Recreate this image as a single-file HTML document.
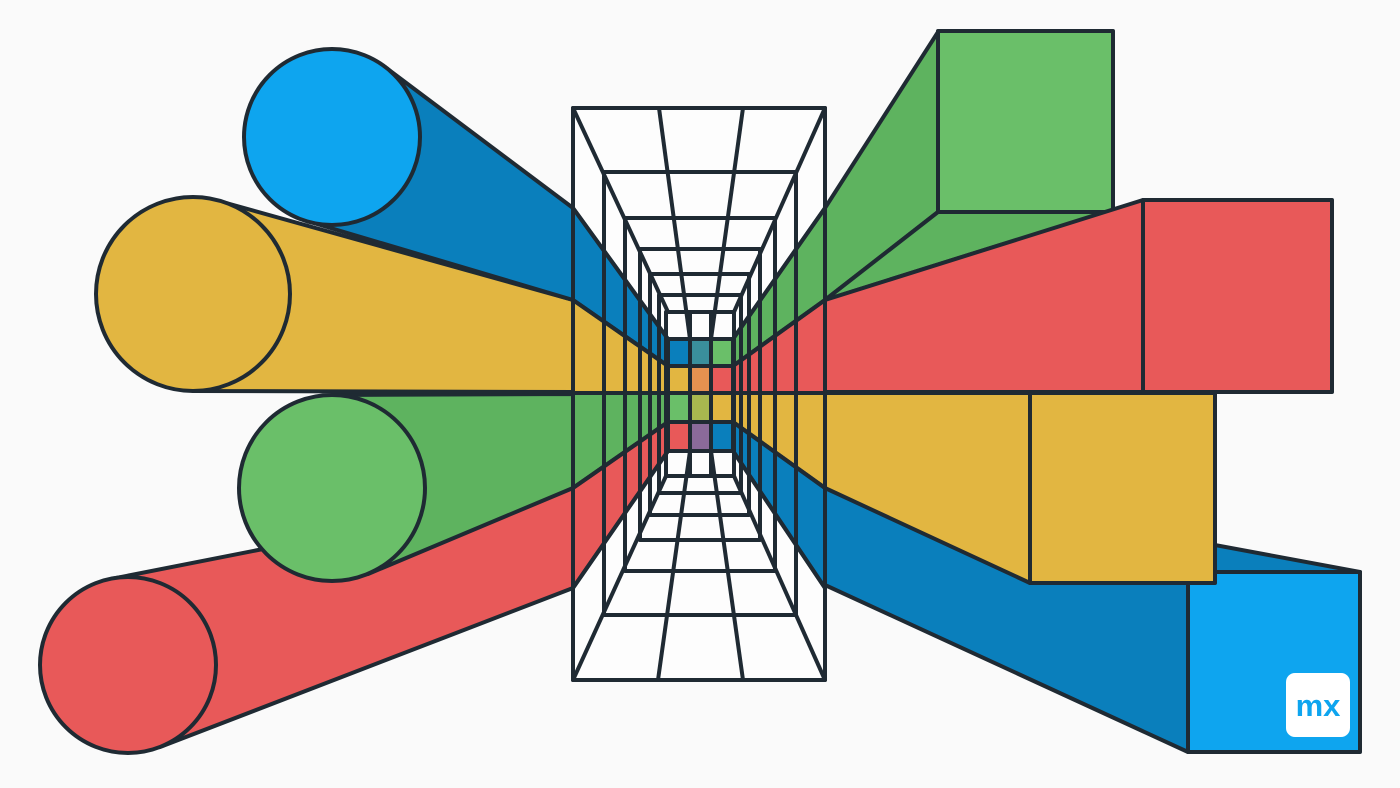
<!DOCTYPE html>
<html><head><meta charset="utf-8"><style>
html,body{margin:0;padding:0;background:#fafafa;}
svg{display:block;}
</style></head><body>
<svg width="1400" height="788" viewBox="0 0 1400 788">
<rect width="1400" height="788" fill="#fafafa"/>
<g stroke="#1f2a33" stroke-width="4" stroke-linejoin="round">
<!-- left cylinders -->
<g>
<polygon points="128,665 111,579 573,488 573,588 160,747" fill="#e85959"/>
<circle cx="128" cy="665" r="88" fill="#e85959"/>
</g>
<g>
<polygon points="332,488 332,395 573,394 573,488 368,574" fill="#5eb35f"/>
<circle cx="332" cy="488" r="93" fill="#6abf69"/>
</g>
<g>
<polygon points="193,294 219,201 573,300 573,392 193,391" fill="#e2b641"/>
<circle cx="193" cy="294" r="97" fill="#e2b641"/>
</g>
<g>
<polygon points="332,137 385,67 573,208 573,300 307,221" fill="#0a7fbc"/>
<circle cx="332" cy="137" r="88" fill="#0ea5ef"/>
</g>
<!-- right boxes -->
<g>
<polygon points="825,488 1000,505 1360,572 1188,572" fill="#0a7fbc"/>
<polygon points="825,488 1188,572 1188,752 825,585" fill="#0a7fbc"/>
<rect x="1188" y="572" width="172" height="180" fill="#0ea5ef"/>
</g>
<g>
<polygon points="825,393 1030,393 1030,583 825,488" fill="#e2b641"/>
<rect x="1030" y="393" width="185" height="190" fill="#e2b641"/>
</g>
<g>
<polygon points="825,208 938,32 938,212 825,300" fill="#5eb35f"/>
<polygon points="825,300 938,212 1113,212 1000,245" fill="#5eb35f"/>
<rect x="938" y="31" width="175" height="181" fill="#6abf69"/>
</g>
<g>
<polygon points="825,300 1143,200 1143,392 825,392" fill="#e85959"/>
<rect x="1143" y="200" width="189" height="192" fill="#e85959"/>
</g>
<!-- tunnel -->
<g>
<rect x="573" y="108" width="252" height="572" fill="#fdfdfd"/>
<polygon points="573,208 668,339 668,366 573,300" fill="#0a7fbc"/>
<polygon points="573,300 668,366 668,393 573,393" fill="#e2b641"/>
<polygon points="573,393 668,393 668,422 573,488" fill="#5eb35f"/>
<polygon points="573,488 668,422 668,451 573,588" fill="#e85959"/>
<polygon points="825,208 733,339 733,366 825,300" fill="#5eb35f"/>
<polygon points="825,300 733,366 733,393 825,393" fill="#e85959"/>
<polygon points="825,393 733,393 733,422 825,488" fill="#e2b641"/>
<polygon points="825,488 733,422 733,451 825,588" fill="#0a7fbc"/>
<g stroke="none">
<rect x="668" y="339" width="22" height="27" fill="#0a7fbc"/><rect x="690" y="339" width="21" height="27" fill="#3a8f9c"/><rect x="711" y="339" width="22" height="27" fill="#6abf69"/>
<rect x="668" y="366" width="22" height="27" fill="#e2b641"/><rect x="690" y="366" width="21" height="27" fill="#e59150"/><rect x="711" y="366" width="22" height="27" fill="#e85959"/>
<rect x="668" y="393" width="22" height="29" fill="#6abf69"/><rect x="690" y="393" width="21" height="29" fill="#a8b84f"/><rect x="711" y="393" width="22" height="29" fill="#e2b641"/>
<rect x="668" y="422" width="22" height="29" fill="#e85959"/><rect x="690" y="422" width="21" height="29" fill="#8a6a9a"/><rect x="711" y="422" width="22" height="29" fill="#0a7fbc"/>
</g>
<g fill="none">
<line x1="573" y1="108" x2="668" y2="312"/><line x1="825" y1="108" x2="734" y2="312"/>
<line x1="573" y1="680" x2="666" y2="476"/><line x1="825" y1="680" x2="734" y2="476"/>
<line x1="659" y1="108" x2="690" y2="339"/><line x1="743" y1="108" x2="711" y2="339"/>
<line x1="658" y1="680" x2="690" y2="451"/><line x1="743" y1="680" x2="711" y2="451"/>
<line x1="573" y1="208" x2="668" y2="339"/><line x1="573" y1="300" x2="668" y2="366"/><line x1="573" y1="393" x2="733" y2="393"/><line x1="573" y1="488" x2="668" y2="422"/><line x1="573" y1="588" x2="668" y2="451"/>
<line x1="825" y1="208" x2="733" y2="339"/><line x1="825" y1="300" x2="733" y2="366"/><line x1="825" y1="393" x2="733" y2="393"/><line x1="825" y1="488" x2="733" y2="422"/><line x1="825" y1="588" x2="733" y2="451"/>
<line x1="668" y1="366" x2="733" y2="366"/><line x1="668" y1="422" x2="733" y2="422"/>
<line x1="690" y1="312" x2="690" y2="476"/><line x1="711" y1="312" x2="711" y2="476"/>
<rect x="604" y="172" width="192" height="443"/>
<rect x="625" y="218" width="150" height="353"/>
<rect x="640" y="249" width="120" height="291"/>
<rect x="650" y="274" width="99" height="241"/>
<rect x="659" y="295" width="82" height="198"/>
<rect x="666" y="312" width="68" height="164"/>
<rect x="668" y="339" width="65" height="112"/>
<rect x="573" y="108" width="252" height="572"/>
</g>
</g>
</g>
<g>
<rect x="1286" y="673" width="64" height="64" rx="9" fill="#ffffff"/>
<text x="1318" y="716" text-anchor="middle" font-family="Liberation Sans, sans-serif" font-weight="bold" font-size="31" fill="#0ea5ef">mx</text>
</g>
</svg>
</body></html>
